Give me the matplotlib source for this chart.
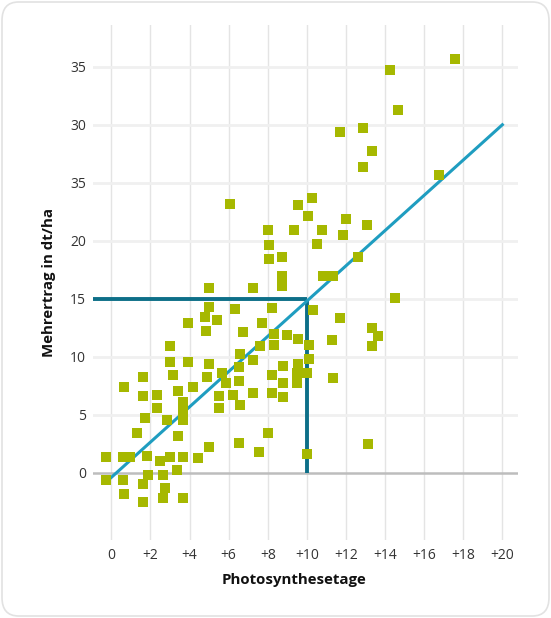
import matplotlib
matplotlib.use("Agg")
import matplotlib.pyplot as plt
from matplotlib.patches import FancyBboxPatch

plt.rcParams['font.family'] = ['Open Sans', 'Noto Sans', 'DejaVu Sans']

# Data
photo_days = [
    17.6, 14.27, 14.68, 11.71, 12.89, 13.35, 12.89, 16.78, 6.09, 8.0,
    8.08, 9.57, 10.28, 10.08, 9.36, 10.79, 10.54, 12.02, 11.87, 13.1,
    8.08, 8.75, 12.63, 10.85, 11.36, 8.75, 8.75, 7.26, 14.53, 8.24,
    10.32, 7.72, 11.71, 6.75, 13.35, 13.66, 13.35, 8.34, 8.34, 9.0,
    9.57, 10.13, 7.62, 11.3, 6.6, 7.26, 10.13, 8.8, 9.57, 9.48,
    9.48, 10.0, 8.24, 8.8, 11.36, 7.26, 8.24, 8.8, 6.58, 8.03,
    6.55, 7.57, 10.03, 13.15, 6.55, 6.55, 6.24, 5.01, 5.01, 4.79,
    5.42, 4.84, 6.33, 3.94, 3.0, 3.0, 3.94, 5.01, 3.14, 1.6,
    4.9, 5.65, 0.66, 4.19, 3.43, 5.87, 1.6, 2.32, 3.65, 3.65,
    3.65, 5.52, 2.32, 5.52, 1.74, 2.86, 1.3, 3.43, 5.01, -0.27,
    0.6, 0.93, 1.81, 2.49, 3.0, 3.65, 4.45, -0.27, 0.61, 1.89,
    2.63, 3.38, 1.64, 2.75, 0.66, 1.64, 2.63, 3.65,
]
extra_yield = [
    35.7, 34.7, 31.3, 29.4, 29.7, 27.7, 26.4, 25.7, 23.2, 20.9,
    19.6, 23.1, 23.7, 22.1, 20.9, 20.9, 19.7, 21.9, 20.5, 21.4,
    18.4, 18.6, 18.6, 17.0, 17.0, 17.0, 16.1, 15.95, 15.1, 14.2,
    14.0, 12.95, 13.3, 12.15, 12.5, 11.8, 10.9, 12.0, 11.0, 11.9,
    11.5, 11.0, 10.95, 11.4, 10.25, 9.7, 9.8, 9.2, 9.35, 8.6,
    7.75, 8.6, 8.45, 7.75, 8.2, 6.85, 6.85, 6.5, 5.8, 3.45,
    2.6, 1.8, 1.65, 2.5, 9.1, 7.9, 6.7, 15.95, 14.25, 13.45,
    13.2, 12.25, 14.1, 12.95, 10.95, 9.57, 9.57, 9.37, 8.42, 8.28,
    8.22, 8.57, 7.36, 7.41, 7.07, 7.7, 6.64, 6.7, 6.12, 5.26,
    4.55, 6.64, 5.55, 5.55, 4.74, 4.54, 3.45, 3.19, 2.24, 1.38,
    1.38, 1.38, 1.47, 1.03, 1.33, 1.33, 1.24, -0.63, -0.63, -0.2,
    -0.2, 0.23, -0.97, -1.35, -1.84, -2.5, -2.2, -2.2,
]
trend_x = [0, 20]
trend_y = [-0.4, 30]
ref_x = 10
ref_y = 15

x_ticks = [0, 2, 4, 6, 8, 10, 12, 14, 16, 18, 20]
x_tick_labels = ["0", "+2", "+4", "+6", "+8", "+10", "+12", "+14", "+16", "+18", "+20"]
y_ticks = [0, 5, 10, 15, 20, 25, 30, 35]
y_tick_labels = ["0", "5", "10", "15", "20", "35", "30", "35"]

fig = plt.figure(figsize=(5.51, 6.18), dpi=100)
fig.patch.set_facecolor("white")

card = FancyBboxPatch((2 / 551, 2 / 618), 547 / 551, 614 / 618,
                      boxstyle="round,pad=0,rounding_size=0.03",
                      transform=fig.transFigure, facecolor="white",
                      edgecolor="#e2e2e2", linewidth=1.2, zorder=-10)
fig.patches.append(card)

ax = fig.add_axes([93 / 551, 1 - 540 / 618, 425 / 551, 515 / 618], zorder=5)
ax.set_facecolor("none")
xmin, xmax = -0.94, 20.8
ax.set_xlim(xmin, xmax)
ax.set_ylim(-5.8, 38.6)

for s in ax.spines.values():
    s.set_visible(False)

for xt in x_ticks:
    ax.axvline(xt, color="#e4e4e4", linewidth=1.0, zorder=1)
for yt in y_ticks:
    if yt != 0:
        ax.axhline(yt, color="#f0f0f0", linewidth=2.0, zorder=1)
ax.axhline(0, color="#bdbdbd", linewidth=1.8, zorder=2)

ax.plot([xmin, ref_x], [ref_y, ref_y], color="#0d6f88", linewidth=2.8,
        solid_capstyle="butt", zorder=3)
ax.plot([ref_x, ref_x], [0, ref_y], color="#0d6f88", linewidth=2.8,
        solid_capstyle="butt", zorder=3)
ax.plot(trend_x, trend_y, color="#1f9dc0", linewidth=2.2, zorder=3)

ax.scatter(photo_days, extra_yield, marker="s", s=62, color="#a6b800",
           linewidths=0, zorder=4)

ax.set_xticks(x_ticks)
ax.set_xticklabels(x_tick_labels)
ax.set_yticks(y_ticks)
ax.set_yticklabels(y_tick_labels)
ax.tick_params(axis="both", length=0, labelsize=10, labelcolor="#333333")
ax.tick_params(axis="x", pad=6)
ax.tick_params(axis="y", pad=5)

ax.set_xlabel("Photosynthesetage", fontsize=10.8, fontweight="bold",
              color="#111111", labelpad=10)
ax.xaxis.set_label_coords((294 - 93) / 425, -0.064)
ax.set_ylabel("Mehrertrag in dt/ha", fontsize=10.8, fontweight="bold",
              color="#111111", labelpad=10)

fig.savefig("out.png", dpi=100, facecolor="white")
